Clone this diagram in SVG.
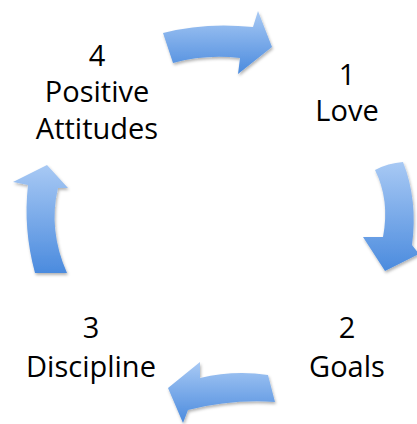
<svg xmlns="http://www.w3.org/2000/svg" width="417" height="424" viewBox="0 0 417 424">
<defs>
<linearGradient id="g" x1="0" y1="0" x2="0" y2="1">
<stop offset="0" stop-color="#a8c9f4"/>
<stop offset="1" stop-color="#4b8bde"/>
</linearGradient>
<filter id="sh" x="-20%" y="-20%" width="140%" height="140%">
<feDropShadow dx="1" dy="2" stdDeviation="1.5" flood-color="#000" flood-opacity="0.3"/>
</filter>
<style>
.arrow{fill:url(#g);filter:url(#sh)}
.lbl{font-family:"Open Sans","Liberation Sans",sans-serif;font-size:29px;fill:#000;text-anchor:middle}
</style>
</defs>
<rect width="417" height="424" fill="#fff"/>
<g id="connectors">
<path class="arrow" d="M163,33 Q205,22 253,27 L258,11 L272,47 L238,74 L240,58 Q205,54 173,63 Z"/>
<path class="arrow" d="M375,170 Q388,163 403,162 Q418,200 412,245 L419,254 L385,271 L363,237 L383,237 Q390,200 375,170 Z"/>
<path class="arrow" d="M268,375 L275,402 Q232,399 188,410 L183,423 L168,388 L200,362 L200,378 Q234,370 268,375 Z"/>
<path class="arrow" d="M47,165 L68,188 L58,188 Q48,230 67,273 L35,273 Q23,229 28,185 L13,182 Z"/>
</g>
<g id="node-1"><text class="lbl" x="347" y="85">1</text><text class="lbl" x="347" y="121">Love</text></g>
<g id="node-2"><text class="lbl" x="347" y="338">2</text><text class="lbl" x="347" y="377">Goals</text></g>
<g id="node-3"><text class="lbl" x="91" y="338">3</text><text class="lbl" x="91" y="377">Discipline</text></g>
<g id="node-4"><text class="lbl" x="97" y="66">4</text><text class="lbl" x="97" y="102">Positive</text><text class="lbl" x="97" y="139">Attitudes</text></g>
</svg>
